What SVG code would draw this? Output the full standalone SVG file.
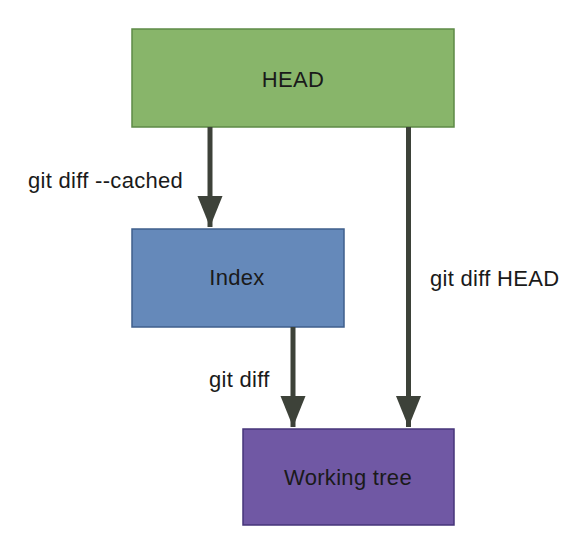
<svg xmlns="http://www.w3.org/2000/svg" width="586" height="555" viewBox="0 0 586 555">
  <defs>
    <style>
      .lbl { font-family: "Liberation Sans", Arial, sans-serif; font-size: 22px; fill: #1a1a1a; letter-spacing: 0.3px; }
      .node-text { font-family: "Liberation Sans", Arial, sans-serif; font-size: 22px; fill: #1a1a1a; text-anchor: middle; letter-spacing: 0.3px; }
      .conn { stroke: #3d4239; stroke-width: 5; fill: none; }
    </style>
    <marker id="arrow" markerUnits="userSpaceOnUse" markerWidth="32" markerHeight="26" refX="31" refY="12.5" orient="auto">
      <polygon points="0,0 31,12.5 0,25" fill="#3d4239"/>
    </marker>
  </defs>
  <rect width="586" height="555" fill="#ffffff"/>
  <g id="node-head">
    <rect x="132" y="29" width="322" height="98" fill="#88b56a" stroke="#5e8a47" stroke-width="1.5"/>
    <text class="node-text" x="293" y="87">HEAD</text>
  </g>
  <g id="node-index">
    <rect x="132" y="229" width="212" height="98" fill="#6589ba" stroke="#3f5f8c" stroke-width="1.5"/>
    <text class="node-text" x="237" y="285">Index</text>
  </g>
  <g id="node-working-tree">
    <rect x="243" y="429" width="211" height="96" fill="#7058a4" stroke="#46357a" stroke-width="1.5"/>
    <text class="node-text" x="348" y="485">Working tree</text>
  </g>
  <g id="connectors">
    <line class="conn" x1="210" y1="127" x2="210" y2="227" marker-end="url(#arrow)"/>
    <line class="conn" x1="293" y1="327" x2="293" y2="427" marker-end="url(#arrow)"/>
    <line class="conn" x1="408.5" y1="127" x2="408.5" y2="427" marker-end="url(#arrow)"/>
    <text class="lbl" x="28" y="188">git diff --cached</text>
    <text class="lbl" x="209" y="387">git diff</text>
    <text class="lbl" x="430" y="286">git diff HEAD</text>
  </g>
</svg>
